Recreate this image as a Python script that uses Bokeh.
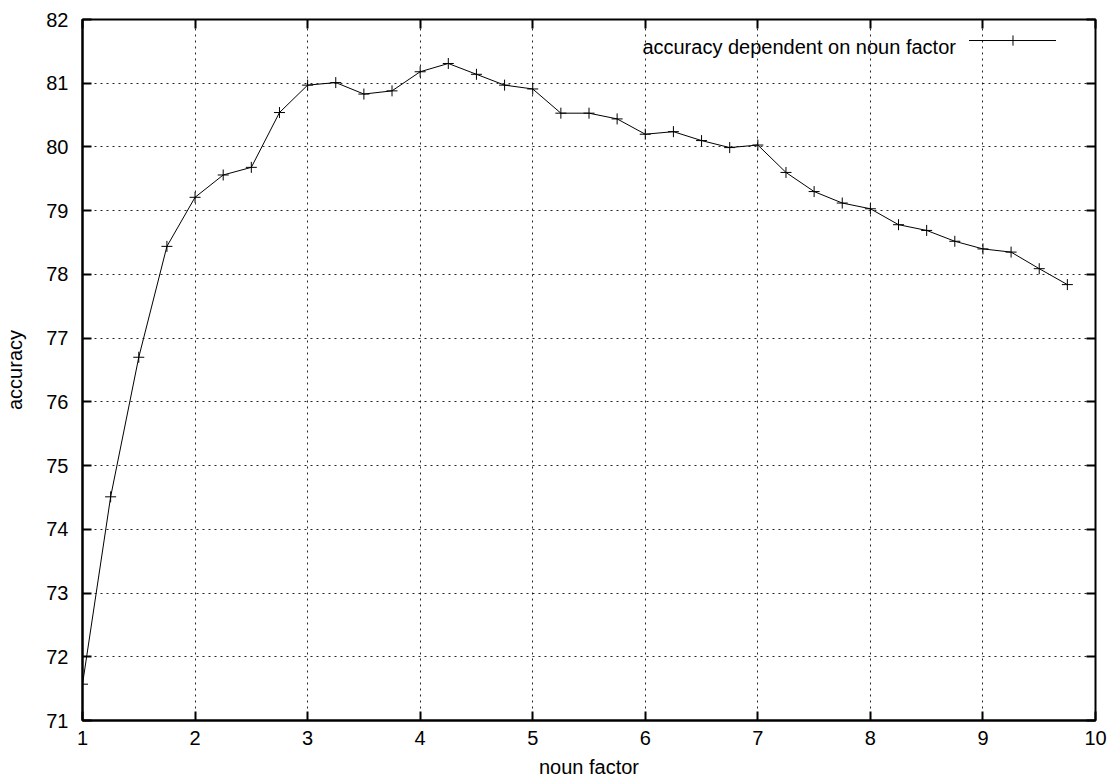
from bokeh.plotting import figure
from bokeh.models import Range1d, FixedTicker, LinearAxis, Label, Arrow
from bokeh.embed import file_html
from bokeh.resources import INLINE

# ---- data ----
noun_factor = [1.0, 1.25, 1.5, 1.75, 2.0, 2.25, 2.5, 2.75, 3.0, 3.25, 3.5, 3.75,
               4.0, 4.25, 4.5, 4.75, 5.0, 5.25, 5.5, 5.75, 6.0, 6.25, 6.5, 6.75,
               7.0, 7.25, 7.5, 7.75, 8.0, 8.25, 8.5, 8.75, 9.0, 9.25, 9.5, 9.75]
accuracy = [71.57, 74.51, 76.70, 78.44, 79.21, 79.56, 79.68, 80.54, 80.97, 81.01, 80.83, 80.88,
            81.18, 81.31, 81.14, 80.97, 80.91, 80.53, 80.53, 80.44, 80.20, 80.24, 80.10, 79.99,
            80.03, 79.60, 79.30, 79.12, 79.03, 78.78, 78.69, 78.52, 78.40, 78.35, 78.09, 77.84]
x_ticks = [1, 2, 3, 4, 5, 6, 7, 8, 9, 10]
y_ticks = [71, 72, 73, 74, 75, 76, 77, 78, 79, 80, 81, 82]
series_name = "accuracy dependent on noun factor"
x_title = "noun factor"
y_title = "accuracy"

FONT = "Liberation Sans"
FS = "20px"

p = figure(width=1107, height=784,
           x_range=Range1d(x_ticks[0], x_ticks[-1]),
           y_range=Range1d(y_ticks[0], y_ticks[-1]),
           output_backend="svg", toolbar_location=None,
           min_border_left=82, min_border_right=12,
           min_border_top=19, min_border_bottom=64)

p.background_fill_color = "white"
p.border_fill_color = "white"
p.outline_line_color = "black"
p.outline_line_width = 2
p.outline_line_alpha = 1.0

for ax, ticks, title, std, lstd in ((p.xaxis[0], x_ticks, x_title, 10, 8),
                                     (p.yaxis[0], y_ticks, y_title, 14, 17)):
    ax.ticker = FixedTicker(ticks=ticks)
    ax.axis_label = title
    ax.axis_label_text_font = FONT
    ax.axis_label_text_font_size = FS
    ax.axis_label_text_font_style = "normal"
    ax.axis_label_text_color = "black"
    ax.axis_label_standoff = lstd
    ax.major_label_text_font = FONT
    ax.major_label_text_font_size = FS
    ax.major_label_text_color = "black"
    ax.major_label_standoff = std
    ax.major_tick_in = 9
    ax.major_tick_out = 0
    ax.major_tick_line_color = "black"
    ax.major_tick_line_width = 2
    ax.minor_tick_line_color = None
    ax.axis_line_color = "black"
    ax.axis_line_width = 2

# mirrored ticks on top and right (no labels)
def mirror_axis(ticks):
    return LinearAxis(ticker=FixedTicker(ticks=ticks), major_label_text_font_size="1px",
                      major_label_text_color=None, major_label_standoff=0,
                      major_tick_in=9, major_tick_out=0, major_tick_line_width=2,
                      major_tick_line_color="black", minor_tick_line_color=None,
                      axis_line_color=None)

p.add_layout(mirror_axis(x_ticks), "above")
p.add_layout(mirror_axis(y_ticks), "right")

for g in (p.xgrid[0], p.ygrid[0]):
    g.grid_line_color = "black"
    g.grid_line_alpha = 0.85
    g.grid_line_dash = "2 4"
    g.grid_line_width = 1

p.line(noun_factor, accuracy, line_color="black", line_width=1)
p.scatter(noun_factor, accuracy, marker="cross", size=11, line_color="black", line_width=1)

# gnuplot-style key: text then sample
p.add_layout(Label(x=8.76, y=81.576, text=series_name, text_align="right",
                   text_baseline="alphabetic", text_font=FONT, text_font_size=FS,
                   text_color="black"))
p.add_layout(Arrow(x_start=8.876, y_start=81.67, x_end=9.649, y_end=81.67,
                   start=None, end=None, line_color="black", line_width=1))
p.add_layout(Arrow(x_start=9.267, y_start=81.59, x_end=9.267, y_end=81.75,
                   start=None, end=None, line_color="black", line_width=1))

open("out.html", "w").write(file_html(p, INLINE))
